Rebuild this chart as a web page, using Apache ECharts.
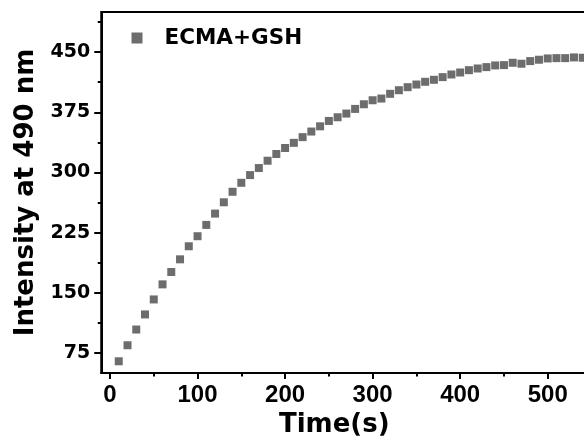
<!DOCTYPE html>
<html>
<head>
<meta charset="utf-8">
<script src="https://cdn.jsdelivr.net/npm/echarts@6/dist/echarts.min.js"></script>
<style>html,body{margin:0;padding:0;background:#fff;}#c{width:584px;height:443px;}</style>
</head>
<body>
<div id="c"></div>
<script>
const times = [10,20,30,40,50,60,70,80,90,100,110,120,130,140,150,160,170,180,190,200,210,220,230,240,250,260,270,280,290,300,310,320,330,340,350,360,370,380,390,400,410,420,430,440,450,460,470,480,490,500,510,520,530,540];
const intensity = [64.6,84.6,104.2,123,141.7,160.5,175.9,191.7,208,220.5,234.6,248.7,262.8,275.9,287.1,296.7,305.5,314.6,323,330.5,336.9,344,351,357.5,364.2,368.8,373.4,379.2,385,390,392.1,398,402.5,406.3,409.6,413,415.5,418.8,422.1,424.6,427.5,429.6,431.3,433.4,433.8,436.7,435.5,438.8,440.5,442.1,442.5,442.5,443.4,443];
const seriesName = 'ECMA+GSH';
const xMajorTicks = [0,100,200,300,400,500,600];
const xMinorTicks = [50,150,250,350,450,550];
const yMajorTicks = [75,150,225,300,375,450];
const yMinorTicks = [112.5,187.5,262.5,337.5,412.5,487.5];

const chart = echarts.init(document.getElementById('c'), null, {renderer:'canvas'});
const dark = '#000';
const gridCfg = {left:101.25, top:12, width:534, height:361, show:true, borderColor:dark, borderWidth:2, containLabel:false, outerBoundsMode:'none'};
chart.setOption({
  animation:false,
  backgroundColor:'#fff',
  grid:gridCfg,
  legend:{
    show:true, left:131.5, top:27, padding:0,
    icon:'rect', itemWidth:11, itemHeight:11,
    data:[seriesName],
    textStyle:{fontFamily:'DejaVu Sans', fontWeight:'bold', fontSize:21.5, color:'#000', padding:[0,0,0,17]}
  },
  xAxis:[{
    type:'value', min:-10, max:600, position:'bottom',
    name:'Time(s)', nameLocation:'middle', nameGap:39,
    nameTextStyle:{fontFamily:'DejaVu Sans', fontWeight:'bold', fontSize:26, color:'#000', padding:[0,68,0,0]},
    axisLine:{show:true, onZero:false, lineStyle:{color:dark, width:2}},
    axisTick:{show:true, inside:false, length:6, lineStyle:{color:dark, width:2}, customValues:xMajorTicks},
    axisLabel:{show:true, margin:10, customValues:xMajorTicks, fontFamily:'Liberation Sans', fontWeight:'bold', fontSize:24, color:'#000'},
    splitLine:{show:false}
  },{
    type:'value', min:-10, max:600, position:'bottom', gridIndex:0,
    axisLine:{show:false, onZero:false},
    axisTick:{show:true, inside:false, length:3.5, lineStyle:{color:dark, width:2}, customValues:xMinorTicks},
    axisLabel:{show:false},
    splitLine:{show:false}
  }],
  yAxis:[{
    type:'value', min:50, max:500, position:'left',
    name:'Intensity at 490 nm', nameLocation:'middle', nameGap:56,
    nameTextStyle:{fontFamily:'DejaVu Sans', fontWeight:'bold', fontSize:26, color:'#000'},
    axisLine:{show:true, onZero:false, lineStyle:{color:dark, width:2}},
    axisTick:{show:true, inside:false, length:7, lineStyle:{color:dark, width:2}, customValues:yMajorTicks},
    axisLabel:{show:true, margin:11, customValues:yMajorTicks, fontFamily:'DejaVu Sans', fontWeight:'bold', fontSize:19, color:'#000'},
    splitLine:{show:false}
  },{
    type:'value', min:50, max:500, position:'left', gridIndex:0, offset:0,
    axisLine:{show:false, onZero:false},
    axisTick:{show:true, inside:false, length:3.5, lineStyle:{color:dark, width:2}, customValues:yMinorTicks},
    axisLabel:{show:false},
    splitLine:{show:false}
  }],
  series:[{
    name:seriesName, type:'scatter', xAxisIndex:0, yAxisIndex:0,
    symbol:'rect', symbolSize:8,
    itemStyle:{color:'#484848'},
    data:times.map((t,i)=>[t,intensity[i]])
  }]
});
</script>
</body>
</html>
